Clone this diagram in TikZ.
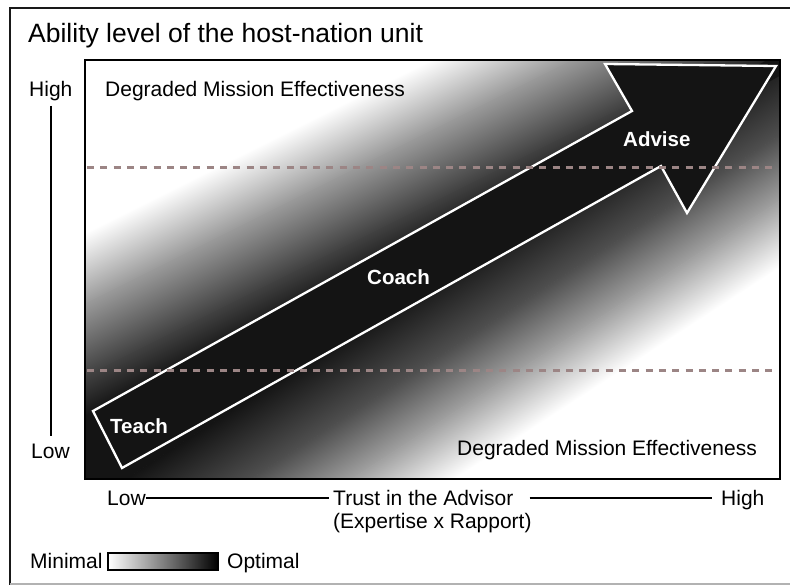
\documentclass[tikz,border=0pt]{standalone}
\usepackage{fontspec}
\setmainfont{Liberation Sans}
\definecolor{bandblack}{HTML}{141414}
\definecolor{dashcol}{HTML}{9C8585}
\colorlet{uA}{black!40}
\colorlet{uB}{black!75}
\colorlet{lA}{black!69}
\colorlet{lB}{black!37}
\begin{document}
\begin{tikzpicture}[x=1pt,y=-1pt,
  lab/.style={font=\fontsize{21}{25}\selectfont, inner sep=0pt, anchor=base west},
  titletext/.style={font=\fontsize{26.5}{30}\selectfont, inner sep=0pt, anchor=base west},
  stage/.style={font=\bfseries\fontsize{20.5}{24}\selectfont, text=white, inner sep=0pt, anchor=base west},
  axisline/.style={line width=2pt, draw=black},
  levelline/.style={draw=dashcol, line width=3pt, dash pattern=on 7pt off 6.3pt},
  arrowshape/.style={fill=bandblack, draw=white, line width=2.3pt, line join=miter},
  framestyle/.style={line width=2.5pt, draw=black!90},
  legbar/.style={draw=black, line width=1.5pt, minimum width=110pt, minimum height=17pt, inner sep=0pt,
    left color=white, middle color=black!25, right color=black},
]
\useasboundingbox (0,0) rectangle (790,585);
\fill[white] (0,0) rectangle (790,585);

% outer frame
\draw[framestyle] (800,8) -- (10,8) -- (10,590);
\draw[gray!60, line width=1.5pt] (10,584) -- (800,584);

% diagonal band (fan-shaped gradient on both sides of the arrow axis)
\coordinate (axA) at (-561,813);
\coordinate (axB) at (1444.5,-307.5);
\begin{scope}
  \clip (85,60) rectangle (780,479);
  % black core along the arrow axis
  \begin{scope}[transform canvas={shift={(432.5,269.5)}, rotate=29.15}]
    \fill[bandblack] (-900,-35) rectangle (900,15);
  \end{scope}
  % upper-left side
  \begin{scope}
    \clip (axA) -- (axB) -- (1444.5,-1000) -- (-561,-1000) -- cycle;
    \begin{scope}[transform canvas={rotate=26.565}]
      \shade[top color=white, bottom color=uA] (-400,246) rectangle (1200,310.5);
      \shade[top color=uA, bottom color=uB] (-400,310) rectangle (1200,375.5);
      \shade[top color=uB, bottom color=bandblack] (-400,375) rectangle (1200,410.5);
      \fill[bandblack] (-400,410) rectangle (1200,700);
    \end{scope}
  \end{scope}
  % lower-right side
  \begin{scope}
    \clip (axA) -- (axB) -- (1444.5,1500) -- (-561,1500) -- cycle;
    \begin{scope}[transform canvas={rotate=33.02}]
      \fill[bandblack] (-400,250) rectangle (1200,470.5);
      \shade[top color=bandblack, bottom color=lA] (-400,470) rectangle (1200,538.5);
      \shade[top color=lA, bottom color=lB] (-400,538) rectangle (1200,593.5);
      \shade[top color=lB, bottom color=white] (-400,593) rectangle (1200,649);
    \end{scope}
  \end{scope}
  \begin{scope}[transform canvas={shift={(432.5,269.5)}, rotate=29.15}]
    \fill[bandblack] (-900,-20) rectangle (900,0);
  \end{scope}
\end{scope}

% arrow
\draw[arrowshape] (93,411) -- (632,111) -- (605,64) -- (776,66) -- (687,213) -- (661,166) -- (122,468) -- cycle;

% level lines
\draw[levelline] (87,168) -- (778,168);
\draw[levelline] (87,370) -- (778,370);

% box border
\draw[line width=2.5pt] (85,60) rectangle (780,479);

% texts
\node[titletext] (title) at (28,43) {Ability level of the host-nation unit};
\node[lab] (yhigh) at (29,97) {High};
\node[lab] (ylow) at (31,458) {Low};
\coordinate (vtop) at (51,106);
\coordinate (vbot) at (51,436);
\draw[axisline] (vtop) -- (vbot);

\node[lab] (dmetop) at (105,97) {Degraded Mission Effectiveness};
\node[lab] (dmebot) at (457,455) {Degraded Mission Effectiveness};

\node[stage] (teach) at (110,433) {Teach};
\node[stage] (coach) at (367,285) {Coach};
\node[stage] (advise) at (623,147) {Advise};

\node[lab] (xlow) at (107,505) {Low};
\node[lab] (trust) at (333,505) {Trust in the Advisor};
\node[lab] (expert) at (333,528) {(Expertise x Rapport)};
\node[lab] (xhigh) at (721,505) {High};
\draw[axisline] (xlow.east) -- ([xshift=-4pt]trust.west |- xlow.east);
\draw[axisline] ([xshift=16pt]trust.east |- xlow.east) -- ([xshift=-9pt]xhigh.west |- xlow.east);

% legend
\node[lab] (minimal) at (30,568) {Minimal};
\node[legbar] (bar) at (163,561.5) {};
\node[lab] (optimal) at (227,568) {Optimal};
\end{tikzpicture}
\end{document}
